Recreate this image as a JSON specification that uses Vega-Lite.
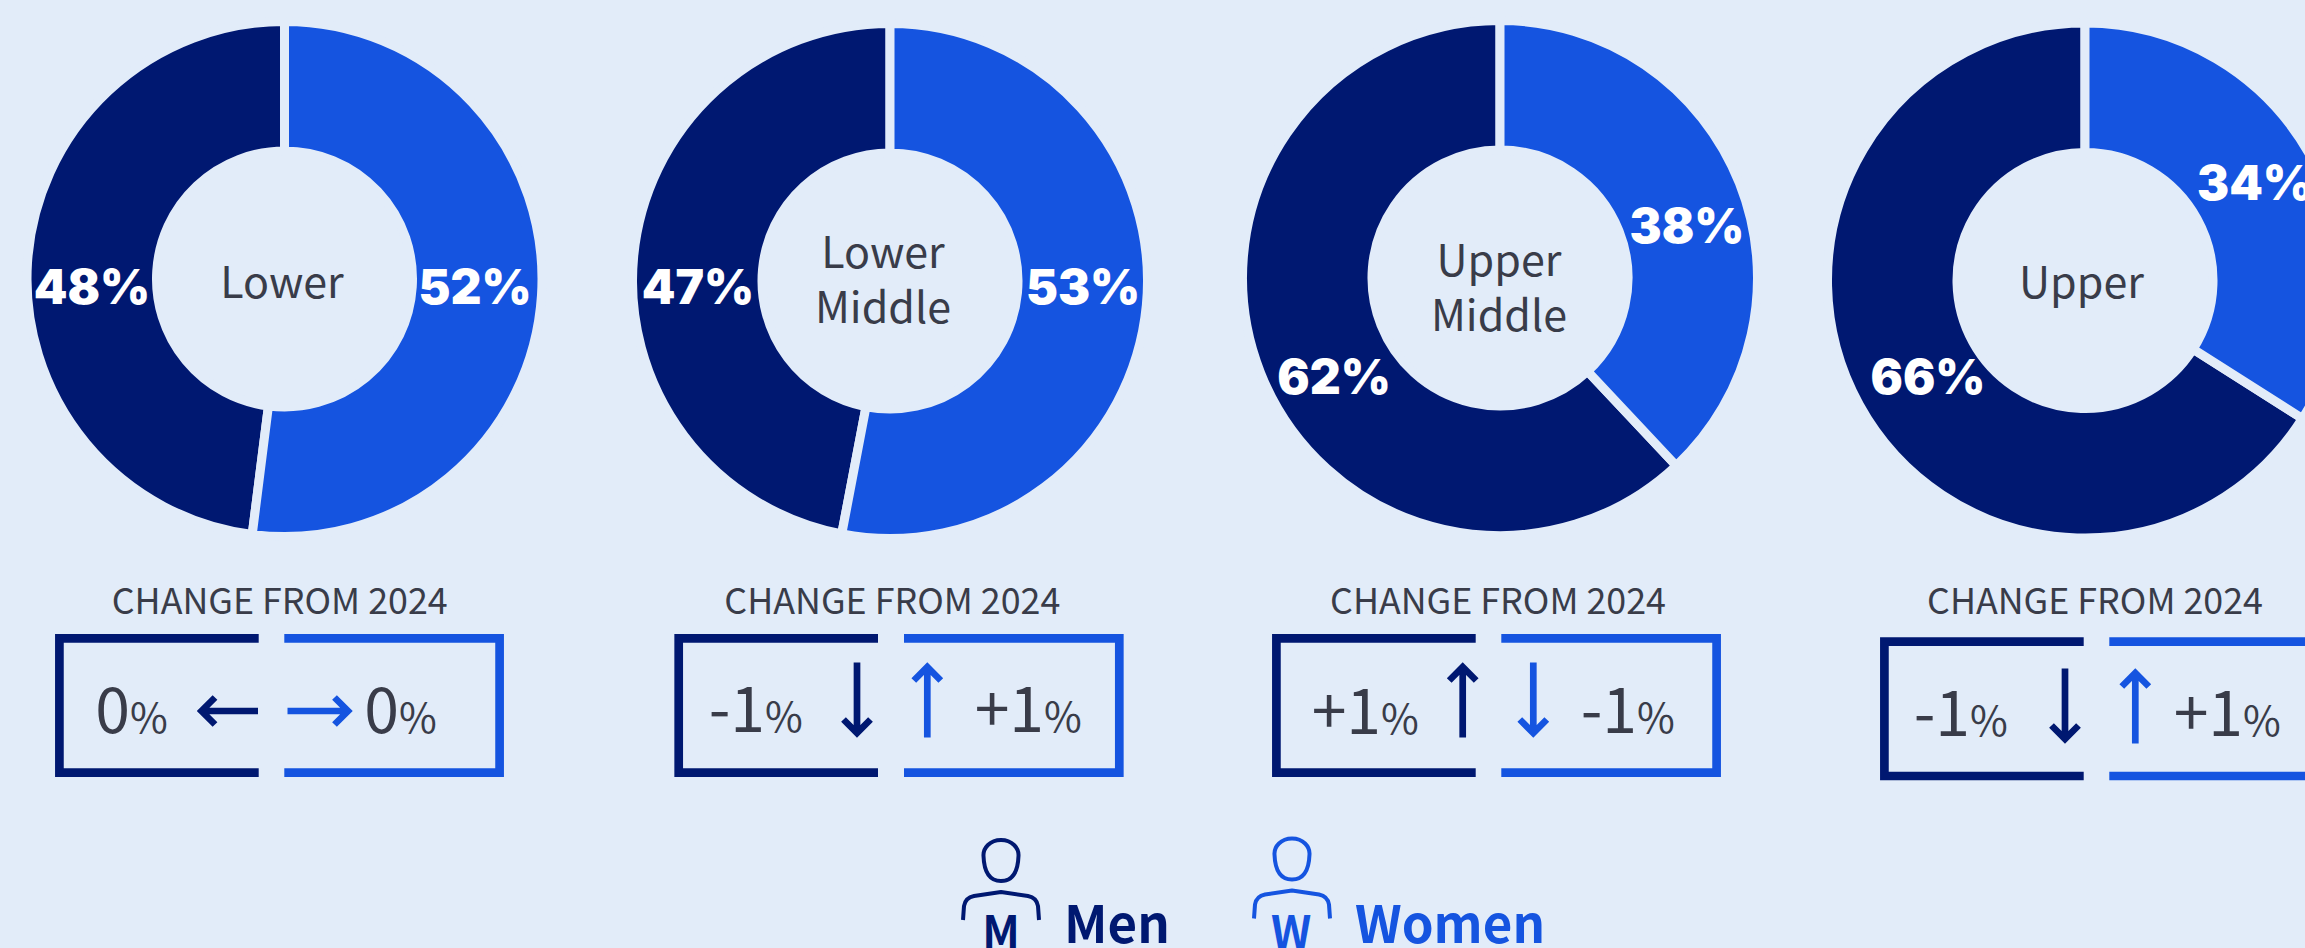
{
"$schema":"https://vega.github.io/schema/vega-lite/v6.json",
"width":2305,"height":948,"padding":0,"autosize":{"type":"none"},
"background":"#E2ECF9",
"config":{"view":{"stroke":null},"text":{"font":"Noto Sans CJK SC","fill":"#393C49"}},
"data":{"values":[
{"group":"Lower","gender":"Men","share":48,"change":0},
{"group":"Lower","gender":"Women","share":52,"change":0},
{"group":"Lower Middle","gender":"Men","share":47,"change":-1},
{"group":"Lower Middle","gender":"Women","share":53,"change":1},
{"group":"Upper Middle","gender":"Men","share":62,"change":1},
{"group":"Upper Middle","gender":"Women","share":38,"change":-1},
{"group":"Upper","gender":"Men","share":66,"change":-1},
{"group":"Upper","gender":"Women","share":34,"change":1}
]},
"transform":[
{"calculate":"indexof(['Lower','Lower Middle','Upper Middle','Upper'],datum.group)","as":"panel"},
{"calculate":"datum.gender=='Women'?1:0","as":"g"},
{"calculate":"datum.panel*2+datum.g","as":"slot"},
{"calculate":"datum.share+'%'","as":"shareText"},
{"calculate":"(datum.change>0?'+':'')+datum.change","as":"changeText"},
{"calculate":"datum.change>0?'up':datum.change<0?'down':datum.g==1?'right':'left'","as":"arrow"},
{"calculate":"substring(datum.gender,0,1)","as":"initial"},
{"stack":"share","groupby":["group"],"sort":[{"field":"gender","order":"descending"}],"as":["s0","s1"]}
],
"resolve":{"scale":{"x":"independent","y":"independent","shape":"independent"}},
"layer":[
{"mark":{"type":"arc","outerRadius":257.5,"innerRadius":128,"stroke":"#E2ECF9","strokeWidth":9},
 "encoding":{
  "x":{"field":"panel","type":"quantitative","axis":null,"scale":{"domain":[0,1,2,3],"range":[284.5,890,1500,2085],"nice":false,"zero":false}},
  "y":{"field":"panel","type":"quantitative","axis":null,"scale":{"domain":[0,1,2,3],"range":[279,281,278,280.5],"nice":false,"zero":false}},
  "theta":{"field":"s0","type":"quantitative","scale":{"domain":[0,100]}},
  "theta2":{"field":"s1"},
  "color":{"field":"gender","type":"nominal","legend":null,"scale":{"domain":["Men","Women"],"range":["#001871","#1554E0"]}}
 }},
{"mark":{"type":"text","font":"Inter","fontWeight":900,"fontSize":48,"fill":"#FFFFFF","baseline":"middle","align":"center"},
 "encoding":{
  "x":{"field":"slot","type":"quantitative","axis":null,"scale":{"domain":[0,1,2,3,4,5,6,7],"range":[92,475,698,1083,1334,1687,1928,2255],"nice":false,"zero":false}},
  "y":{"field":"slot","type":"quantitative","axis":null,"scale":{"domain":[0,1,2,3,4,5,6,7],"range":[290,290,290,290,380,229,380,186],"nice":false,"zero":false}},
  "text":{"field":"shareText"}
 }},
{"transform":[{"filter":"datum.g==0"}],
 "mark":{"type":"text","fontSize":43,"align":"center","baseline":"alphabetic","lineBreak":" ","lineHeight":55},
 "encoding":{
  "x":{"field":"panel","type":"quantitative","axis":null,"scale":{"domain":[0,1,2,3],"range":[282,883,1499,2081.5],"nice":false,"zero":false}},
  "y":{"field":"panel","type":"quantitative","axis":null,"scale":{"domain":[0,1,2,3],"range":[297.5,268,276,297.5],"nice":false,"zero":false}},
  "text":{"field":"group"}
 }},
{"transform":[{"filter":"datum.g==0"}],
 "mark":{"type":"text","fontSize":35.8,"align":"center","baseline":"alphabetic"},
 "encoding":{
  "x":{"field":"panel","type":"quantitative","axis":null,"scale":{"domain":[0,1,2,3],"range":[279.7,892.3,1498,2095],"nice":false,"zero":false}},
  "y":{"field":"panel","type":"quantitative","axis":null,"scale":{"domain":[0,3],"range":[614,614],"nice":false,"zero":false}},
  "text":{"value":"CHANGE FROM 2024"}
 }},
{"mark":{"type":"point","filled":false,"opacity":1,"size":4,"strokeWidth":8.7,"strokeJoin":"miter","strokeCap":"butt"},
 "encoding":{
  "x":{"field":"slot","type":"quantitative","axis":null,"scale":{"domain":[0,1,2,3,4,5,6,7],"range":[258.7,284.3,878,904,1475.7,1501.3,2083.7,2109.3],"nice":false,"zero":false}},
  "y":{"field":"slot","type":"quantitative","axis":null,"scale":{"domain":[0,1,2,3,4,5,6,7],"range":[705.5,705.5,705.5,705.5,705.5,705.5,708.8,708.8],"nice":false,"zero":false}},
  "shape":{"field":"gender","type":"nominal","legend":null,"scale":{"domain":["Men","Women"],"range":["M0,-67.2L-199.3,-67.2L-199.3,67.2L0,67.2","M0,-67.2L215.3,-67.2L215.3,67.2L0,67.2"]}},
  "color":{"field":"gender","type":"nominal","legend":null}
 }},
{"mark":{"type":"text","fontSize":62.5,"align":"right","baseline":"alphabetic"},
 "encoding":{
  "x":{"field":"slot","type":"quantitative","axis":null,"scale":{"domain":[0,1,2,3,4,5,6,7],"range":[130,399,765,1044,1381,1637,1970,2243],"nice":false,"zero":false}},
  "y":{"field":"slot","type":"quantitative","axis":null,"scale":{"domain":[0,1,2,3,4,5,6,7],"range":[733,733,732,732,734,733,736,736],"nice":false,"zero":false}},
  "text":{"field":"changeText"}
 }},
{"mark":{"type":"text","fontSize":41,"align":"left","baseline":"alphabetic"},
 "encoding":{
  "x":{"field":"slot","type":"quantitative","axis":null,"scale":{"domain":[0,1,2,3,4,5,6,7],"range":[130,399,765,1044,1381,1637,1970,2243],"nice":false,"zero":false}},
  "y":{"field":"slot","type":"quantitative","axis":null,"scale":{"domain":[0,1,2,3,4,5,6,7],"range":[733,733,732,732,734,733,736,736],"nice":false,"zero":false}},
  "text":{"value":"%"}
 }},
{"mark":{"type":"point","filled":false,"opacity":1,"size":4,"strokeWidth":6.7,"strokeJoin":"miter","strokeCap":"butt"},
 "encoding":{
  "x":{"field":"slot","type":"quantitative","axis":null,"scale":{"domain":[0,1,2,3,4,5,6,7],"range":[227.5,320,857,927.3,1462.7,1533.3,2065,2135.3],"nice":false,"zero":false}},
  "y":{"field":"slot","type":"quantitative","axis":null,"scale":{"domain":[0,1,2,3,4,5,6,7],"range":[711,711,700,700,700,700,706,706],"nice":false,"zero":false}},
  "shape":{"field":"arrow","type":"nominal","legend":null,"scale":{"domain":["left","right","up","down"],"range":["M30.5,0L-26,0M-12.5,-13.5L-26,0L-12.5,13.5","M-32.5,0L28,0M14.5,-13.5L28,0L14.5,13.5","M0,37.5L0,-33M-13.5,-19.5L0,-33L13.5,-19.5","M0,-37.5L0,33M-13.5,19.5L0,33L13.5,19.5"]}},
  "color":{"field":"gender","type":"nominal","legend":null}
 }},
{"transform":[{"filter":"datum.panel==0"}],
 "mark":{"type":"point","filled":false,"opacity":1,"size":4,"strokeWidth":4,"strokeJoin":"round"},
 "encoding":{
  "x":{"field":"g","type":"quantitative","axis":null,"scale":{"domain":[0,1],"range":[1001,1292],"nice":false,"zero":false}},
  "y":{"field":"g","type":"quantitative","axis":null,"scale":{"domain":[0,1],"range":[880,878.5],"nice":false,"zero":false}},
  "shape":{"value":"M0,-40C11,-40 18,-32 17.5,-24C17,-10 13,1 0,1C-13,1 -17,-10 -17.5,-24C-18,-32 -11,-40 0,-40ZM-38,40L-37,26C-36,20 -32,17 -27,16L0,12L27,16C32,17 36,20 37,26L38,40"},
  "color":{"field":"gender","type":"nominal","legend":null}
 }},
{"transform":[{"filter":"datum.panel==0"}],
 "mark":{"type":"text","fontSize":44,"fontWeight":700,"align":"center","baseline":"alphabetic"},
 "encoding":{
  "x":{"field":"g","type":"quantitative","axis":null,"scale":{"domain":[0,1],"range":[1001,1291],"nice":false,"zero":false}},
  "y":{"field":"g","type":"quantitative","axis":null,"scale":{"domain":[0,1],"range":[948,948],"nice":false,"zero":false}},
  "text":{"field":"initial"},
  "color":{"field":"gender","type":"nominal","legend":null}
 }},
{"transform":[{"filter":"datum.panel==0"}],
 "mark":{"type":"text","fontSize":51,"fontWeight":700,"align":"left","baseline":"alphabetic"},
 "encoding":{
  "x":{"field":"g","type":"quantitative","axis":null,"scale":{"domain":[0,1],"range":[1064,1355],"nice":false,"zero":false}},
  "y":{"field":"g","type":"quantitative","axis":null,"scale":{"domain":[0,1],"range":[943.3,943.3],"nice":false,"zero":false}},
  "text":{"field":"gender"},
  "color":{"field":"gender","type":"nominal","legend":null}
 }}
]
}
